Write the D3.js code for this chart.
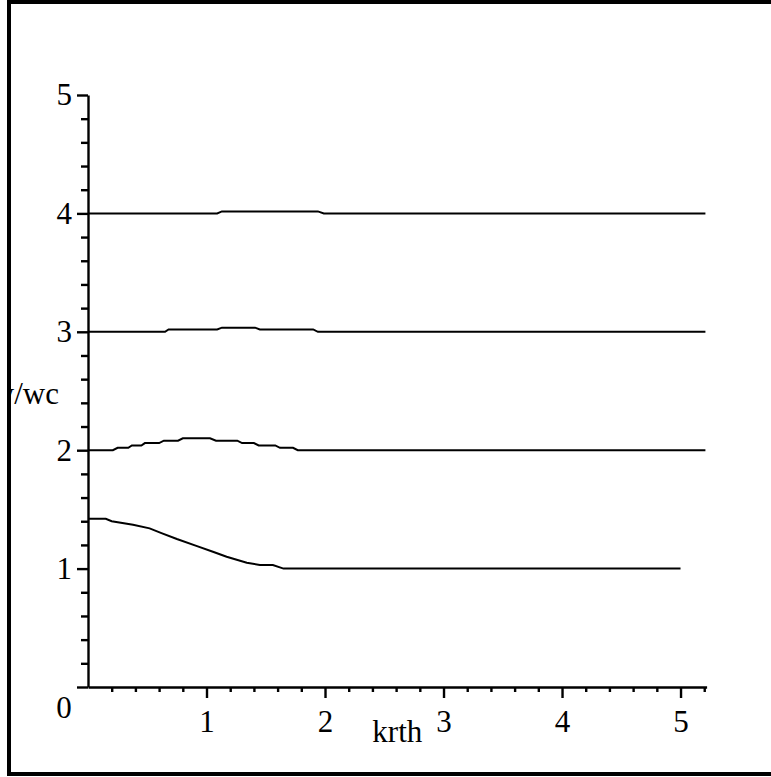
<!DOCTYPE html>
<html>
<head>
<meta charset="utf-8">
<script src="https://cdn.jsdelivr.net/npm/d3@7"></script>
<style>
  body { margin: 0; background: #fff; }
  svg { display: block; }
  text { font-family: "Liberation Serif", "Times New Roman", serif; fill: #000; }
</style>
</head>
<body>
<div id="canvas"></div>
<script>
// tick values / labels
let xMajor = [1, 2, 3, 4, 5];
let xLabels = ['1', '2', '3', '4', '5'];
let yMajor = [0, 1, 2, 3, 4, 5];
let yLabels = ['0', '1', '2', '3', '4', '5'];

// the four branches, krth vs w/wc
let k1 = [0, 0.15, 0.2, 0.38, 0.52, 0.62, 0.75, 0.92, 1.06, 1.17, 1.34, 1.45, 1.56, 1.65, 5.0];
let w1 = [1.42, 1.42, 1.40, 1.37, 1.34, 1.30, 1.25, 1.19, 1.14, 1.10, 1.05, 1.03, 1.03, 1.0, 1.0];

let k2 = [0, 0.21, 0.25, 0.34, 0.37, 0.45, 0.48, 0.6, 0.64, 0.76, 0.8, 1.03, 1.08, 1.26, 1.3, 1.4, 1.44, 1.58, 1.62, 1.73, 1.77, 5.21];
let w2 = [2.0, 2.0, 2.02, 2.02, 2.04, 2.04, 2.06, 2.06, 2.08, 2.08, 2.1, 2.1, 2.08, 2.08, 2.06, 2.06, 2.04, 2.04, 2.02, 2.02, 2.0, 2.0];

let k3 = [0, 0.65, 0.68, 1.09, 1.13, 1.41, 1.45, 1.90, 1.94, 5.21];
let w3 = [3.0, 3.0, 3.02, 3.02, 3.035, 3.035, 3.02, 3.02, 3.0, 3.0];

let k4 = [0, 1.09, 1.13, 1.94, 1.99, 5.21];
let w4 = [4.0, 4.0, 4.017, 4.017, 4.0, 4.0];

let curves = [[k1, w1], [k2, w2], [k3, w3], [k4, w4]];

let width = 771, height = 777;

let canvas = d3.select('#canvas').append('svg')
    .attr('width', width)
    .attr('height', height);

let x = d3.scaleLinear().domain([0, 5.22]).range([88, 706.6]);
let y = d3.scaleLinear().domain([0, 5]).range([687, 95]);

// minor ticks every 0.2
let xMinor = d3.range(1, 27).map(i => i / 5).filter(v => Math.abs(v - Math.round(v)) > 1e-6);
let yMinor = d3.range(1, 25).map(i => i / 5).filter(v => Math.abs(v - Math.round(v)) > 1e-6);

// frame (runs off the right edge in the original)
canvas.append('rect')
    .attr('x', 9).attr('y', 2)
    .attr('width', 790).attr('height', 772)
    .attr('fill', 'none')
    .attr('stroke', '#000')
    .attr('stroke-width', 4);

let fontSize = 31;

// y axis
canvas.append('g')
    .attr('transform', `translate(${x(0)},0)`)
    .call(d3.axisLeft(y)
        .tickValues(yMajor)
        .tickSize(11)
        .tickSizeOuter(0)
        .tickPadding(5)
        .tickFormat((d, i) => d === 0 ? '' : yLabels[i]));
canvas.append('g')
    .attr('transform', `translate(${x(0)},0)`)
    .call(d3.axisLeft(y).tickValues(yMinor).tickSize(7).tickSizeOuter(0).tickFormat(''))
    .select('.domain').remove();

// x axis
canvas.append('g')
    .attr('transform', `translate(0,${y(0)})`)
    .call(d3.axisBottom(x)
        .tickValues(xMajor)
        .tickSize(11)
        .tickSizeOuter(0)
        .tickPadding(12)
        .tickFormat((d, i) => xLabels[i]));
canvas.append('g')
    .attr('transform', `translate(0,${y(0)})`)
    .call(d3.axisBottom(x).tickValues(xMinor).tickSize(5).tickSizeOuter(0).tickFormat(''))
    .select('.domain').remove();

canvas.selectAll('.domain, .tick line')
    .attr('stroke', '#000')
    .attr('stroke-width', 2.4);
canvas.selectAll('.tick text')
    .attr('font-family', '"Liberation Serif", serif')
    .attr('font-size', fontSize);

// origin label sits in the corner
canvas.append('text')
    .attr('x', 64).attr('y', 718)
    .attr('text-anchor', 'middle')
    .attr('font-size', fontSize)
    .text(yLabels[0]);

// axis titles
canvas.append('text')
    .attr('x', x(2.61)).attr('y', 742)
    .attr('text-anchor', 'middle')
    .attr('font-size', fontSize)
    .text('krth');

// the y title is clipped by the frame on the left
canvas.append('clipPath').attr('id', 'inner')
    .append('rect').attr('x', 11).attr('y', 0).attr('width', 760).attr('height', 777);
canvas.append('text')
    .attr('clip-path', 'url(#inner)')
    .attr('x', 59).attr('y', 404)
    .attr('text-anchor', 'end')
    .attr('font-size', fontSize)
    .text('w/wc');

// curves
let line = d3.line()
    .x(d => x(d[0]))
    .y(d => y(d[1]));

canvas.selectAll('path.curve')
    .data(curves)
    .enter()
    .append('path')
    .attr('class', 'curve')
    .attr('d', c => line(c[0].map((kv, i) => [kv, c[1][i]])))
    .attr('fill', 'none')
    .attr('stroke', '#000')
    .attr('stroke-width', 2);
</script>
</body>
</html>
